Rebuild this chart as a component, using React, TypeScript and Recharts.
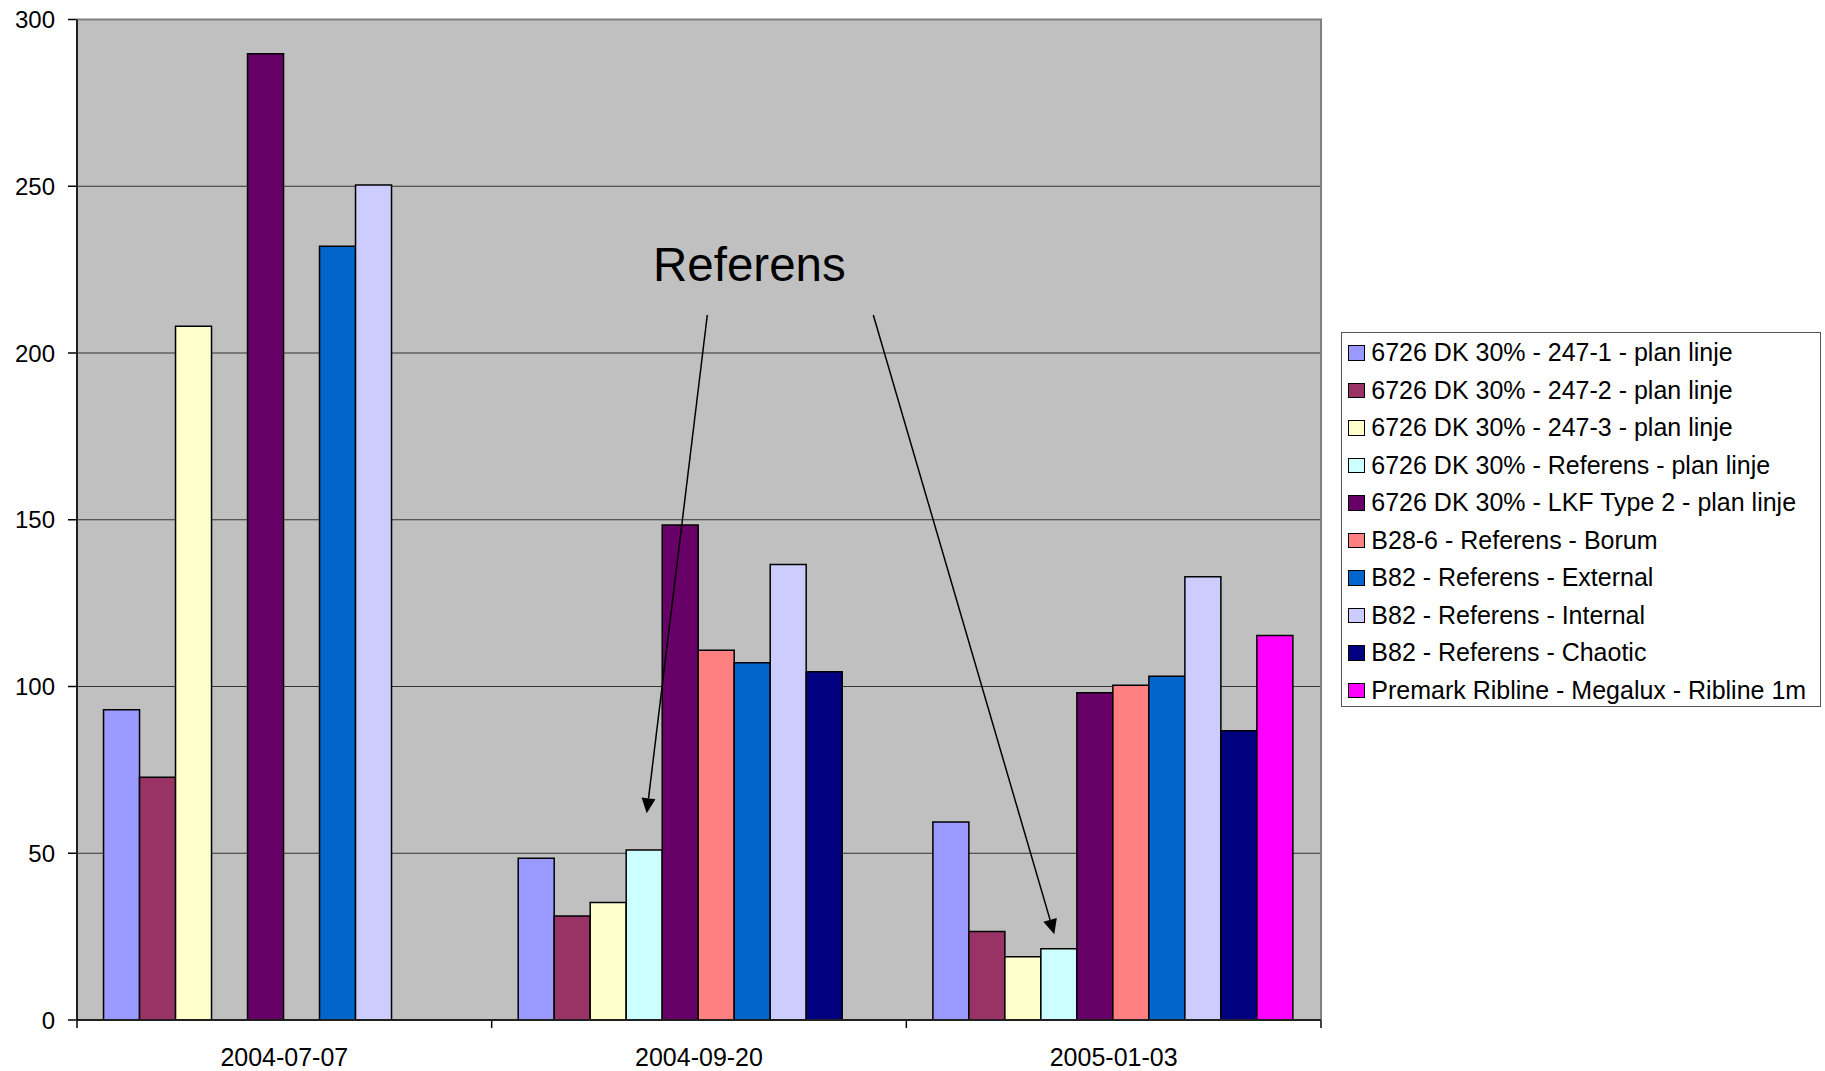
import React from 'react';
import { BarChart, Bar, XAxis, YAxis, CartesianGrid, Legend } from 'recharts';

const categories = ['2004-07-07', '2004-09-20', '2005-01-03'];
const s1 = [93, 48.5, 59.4];
const s2 = [72.8, 31.2, 26.5];
const s3 = [208, 35.2, 19];
const s4 = [null, 51, 21.4];
const s5 = [289.7, 148.4, 98.1];
const s6 = [null, 110.9, 100.4];
const s7 = [232, 107.1, 103.1];
const s8 = [250.4, 136.6, 132.9];
const s9 = [null, 104.4, 86.7];
const s10 = [null, null, 115.3];
const seriesNames = [
  '6726 DK 30% - 247-1 - plan linje',
  '6726 DK 30% - 247-2 - plan linje',
  '6726 DK 30% - 247-3 - plan linje',
  '6726 DK 30% - Referens - plan linje',
  '6726 DK 30% - LKF Type 2 - plan linje',
  'B28-6 - Referens - Borum',
  'B82 - Referens - External',
  'B82 - Referens - Internal',
  'B82 - Referens - Chaotic',
  'Premark Ribline - Megalux - Ribline 1m',
];
const seriesColors = ['#9999FF', '#993366', '#FFFFCC', '#CCFFFF', '#660066', '#FF8080', '#0066CC', '#CCCCFF', '#000080', '#FF00FF'];
const seriesValues = [s1, s2, s3, s4, s5, s6, s7, s8, s9, s10];
const yTicks = [0, 50, 100, 150, 200, 250, 300];
const annotationText = 'Referens';

const data = categories.map((c, i) => {
  const row: any = { cat: c };
  seriesValues.forEach((s, k) => { row['s' + k] = s[i]; });
  return row;
});

const W = 1825;
const H = 1071;
const PLOT_L = 77;
const PLOT_T = 19.5;
const PLOT_R = 1321;
const PLOT_B = 1020;
const BAND = (PLOT_R - PLOT_L) / categories.length;
const FONT = '"Liberation Sans", Arial, sans-serif';

const XTick = (props: any) => {
  const { x, y, payload, index } = props;
  const axisY = y - 28;
  return (
    <g>
      <line x1={x - BAND / 2} x2={x - BAND / 2} y1={axisY} y2={axisY + 8} stroke="#000" strokeWidth={1.5} />
      {index === categories.length - 1 && (
        <line x1={x + BAND / 2} x2={x + BAND / 2} y1={axisY} y2={axisY + 8} stroke="#000" strokeWidth={1.5} />
      )}
      <text x={x} y={y} dy="0.71em" textAnchor="middle" fontSize={25} fill="#000" fontFamily={FONT}>
        {payload.value}
      </text>
    </g>
  );
};

const arrow = (x1: number, y1: number, x2: number, y2: number, key: string) => {
  const dx = x2 - x1;
  const dy = y2 - y1;
  const len = Math.sqrt(dx * dx + dy * dy);
  const ux = dx / len;
  const uy = dy / len;
  const hl = 15;
  const hw = 7;
  const bx = x2 - ux * hl;
  const by = y2 - uy * hl;
  const px = -uy;
  const py = ux;
  return (
    <g key={key}>
      <line x1={x1} y1={y1} x2={bx} y2={by} stroke="#000" strokeWidth={1.5} />
      <polygon points={`${x2},${y2} ${bx + px * hw},${by + py * hw} ${bx - px * hw},${by - py * hw}`} fill="#000" />
    </g>
  );
};

const Overlay = () => (
  <svg width={W} height={H} style={{ position: 'absolute', left: 0, top: 0, pointerEvents: 'none' }}>
    <rect x={PLOT_L} y={PLOT_T} width={PLOT_R - PLOT_L} height={PLOT_B - PLOT_T} fill="none" stroke="#808080" strokeWidth={2} />
    <line x1={PLOT_L} x2={PLOT_L} y1={PLOT_T} y2={PLOT_B + 0.75} stroke="#000" strokeWidth={1.5} />
    <line x1={PLOT_L} x2={PLOT_R} y1={PLOT_B} y2={PLOT_B} stroke="#000" strokeWidth={1.5} />
    <text x={653} y={281} fontSize={47.5} fontFamily={FONT} fill="#000">{annotationText}</text>
    {arrow(707.3, 315, 646.7, 813.3, 'a1')}
    {arrow(873.3, 315, 1054.3, 934.3, 'a2')}
  </svg>
);

const LegendContent = () => (
  <div
    style={{
      width: 480,
      height: 375,
      boxSizing: 'border-box',
      border: '1px solid #555',
      background: '#fff',
      paddingTop: 1,
      fontFamily: FONT,
    }}
  >
    {seriesNames.map((name, i) => (
      <div key={name} style={{ height: 37.5, display: 'flex', alignItems: 'center' }}>
        <div
          style={{
            width: 16.5,
            height: 15.5,
            marginLeft: 6.3,
            boxSizing: 'border-box',
            border: '1.5px solid #000',
            background: seriesColors[i],
          }}
        />
        <span style={{ marginLeft: 6.5, fontSize: 25, lineHeight: 1, color: '#000', whiteSpace: 'nowrap' }}>{name}</span>
      </div>
    ))}
  </div>
);

export default function App() {
  return (
    <div style={{ position: 'absolute', left: 0, top: 0, width: W, height: H, background: '#fff', fontFamily: FONT }}>
      <BarChart
        width={W}
        height={H}
        data={data}
        margin={{ top: PLOT_T, right: W - PLOT_R, bottom: 0, left: 0 }}
        barCategoryGap="6.4%"
        barGap={0}
      >
        <CartesianGrid vertical={false} fill="#C0C0C0" stroke="#333" strokeWidth={1} fillOpacity={1} />
        <XAxis
          dataKey="cat"
          height={H - PLOT_B}
          tickLine={false}
          axisLine={{ stroke: '#000', strokeWidth: 1.5 }}
          tickSize={8}
          tickMargin={20}
          tick={<XTick />}
          interval={0}
        />
        <YAxis
          width={PLOT_L}
          domain={[0, 300]}
          ticks={yTicks}
          allowDataOverflow
          tickSize={9}
          tickMargin={13}
          tickLine={{ stroke: '#000', strokeWidth: 1.5 }}
          axisLine={{ stroke: '#000', strokeWidth: 1.5 }}
          tick={{ fontSize: 24, fill: '#000', fontFamily: FONT }}
        />
        {seriesNames.map((n, k) => (
          <Bar
            key={n}
            dataKey={'s' + k}
            name={n}
            fill={seriesColors[k]}
            stroke="#000"
            strokeWidth={1.5}
            isAnimationActive={false}
          />
        ))}
        <Legend
          layout="vertical"
          align="center"
          verticalAlign="middle"
          content={<LegendContent />}
          wrapperStyle={{ left: 1341, top: 332, width: 480, height: 375 }}
        />
      </BarChart>
      <Overlay />
    </div>
  );
}
